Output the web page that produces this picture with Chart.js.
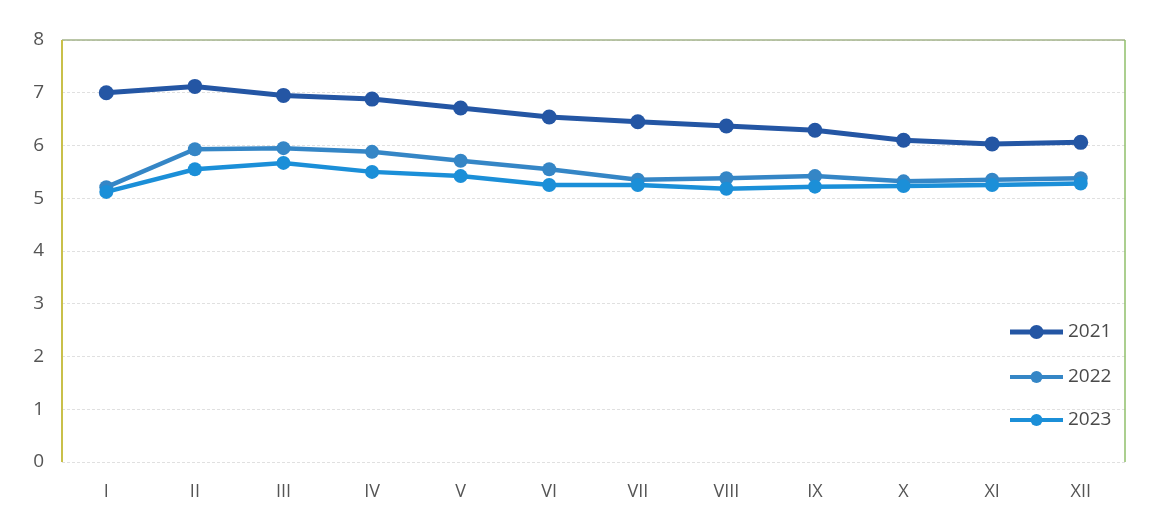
<!DOCTYPE html>
<html>
<head>
<meta charset="utf-8">
<script src="https://cdn.jsdelivr.net/npm/chart.js@4/dist/chart.umd.min.js"></script>
<style>
  html, body { margin: 0; padding: 0; background: #fff; }
  #wrap { width: 1149px; height: 508px; }
</style>
</head>
<body>
<div id="wrap"><canvas id="myChart" width="1149" height="508"></canvas></div>
<script>
const months = ['I', 'II', 'III', 'IV', 'V', 'VI', 'VII', 'VIII', 'IX', 'X', 'XI', 'XII'];
const seriesNames = ['2021', '2022', '2023'];
const seriesColors = ['#2456a4', '#3586c6', '#1b8fd8'];
const values2021 = [7.0, 7.12, 6.95, 6.88, 6.71, 6.54, 6.45, 6.37, 6.29, 6.1, 6.03, 6.06];
const values2022 = [5.21, 5.93, 5.95, 5.88, 5.71, 5.55, 5.35, 5.38, 5.42, 5.32, 5.35, 5.38];
const values2023 = [5.12, 5.55, 5.67, 5.5, 5.42, 5.25, 5.25, 5.18, 5.22, 5.23, 5.25, 5.28];
const yTicks = [0, 1, 2, 3, 4, 5, 6, 7, 8];

const allValues = [values2021, values2022, values2023];

// frame round the plot area + legend drawn inside it
const framePlugin = {
  id: 'frame',
  beforeDatasetsDraw(chart) {
    const { ctx, chartArea: a } = chart;
    ctx.save();
    ctx.lineWidth = 1.5;
    ctx.strokeStyle = '#a3b38a';
    ctx.beginPath();
    ctx.moveTo(a.left, a.top);
    ctx.lineTo(a.right, a.top);
    ctx.stroke();
    ctx.strokeStyle = '#8fbf6a';
    ctx.beginPath();
    ctx.moveTo(a.right, a.top);
    ctx.lineTo(a.right, a.bottom);
    ctx.stroke();
    ctx.strokeStyle = '#c9c04a';
    ctx.lineWidth = 2;
    ctx.beginPath();
    ctx.moveTo(a.left, a.top);
    ctx.lineTo(a.left, a.bottom);
    ctx.stroke();
    ctx.restore();
  },
  afterDraw(chart) {
    const { ctx, chartArea: a } = chart;
    const rowsY = [a.top + 292, a.top + 337, a.top + 380];
    ctx.save();
    ctx.font = '19px "Open Sans", Lato, sans-serif';
    ctx.textBaseline = 'middle';
    seriesNames.forEach((name, i) => {
      const y = rowsY[i];
      const x0 = a.right - 115;
      const x1 = a.right - 62;
      ctx.strokeStyle = seriesColors[i];
      ctx.lineWidth = i === 0 ? 5 : 4;
      ctx.beginPath();
      ctx.moveTo(x0, y);
      ctx.lineTo(x1, y);
      ctx.stroke();
      ctx.fillStyle = seriesColors[i];
      ctx.beginPath();
      ctx.arc((x0 + x1) / 2, y, i === 0 ? 7 : 6, 0, Math.PI * 2);
      ctx.fill();
      ctx.fillStyle = '#4a4a4a';
      ctx.fillText(name, x1 + 5, y);
    });
    ctx.restore();
  },
};

const ctx = document.getElementById('myChart').getContext('2d');
const myChart = new Chart(ctx, {
  type: 'line',
  data: {
    labels: months,
    datasets: seriesNames.map((name, i) => ({
      label: name,
      data: allValues[i],
      borderColor: seriesColors[i],
      backgroundColor: seriesColors[i],
      borderWidth: i === 0 ? 5 : 4.5,
      pointRadius: i === 0 ? 7.5 : 7,
      pointBorderWidth: 0,
      pointHoverRadius: 7,
      tension: 0,
      order: 3 - i,
    })),
  },
  options: {
    responsive: false,
    animation: false,
    layout: { padding: { top: 40, right: 24, left: 0, bottom: 0 } },
    plugins: {
      legend: { display: false },
      tooltip: { enabled: false },
    },
    scales: {
      x: {
        offset: true,
        grid: { display: false },
        border: { display: false },
        ticks: {
          color: '#555',
          font: { family: '"Open Sans", Lato, sans-serif', size: 18 },
          padding: 11,
          maxRotation: 0,
        },
        afterFit(scale) { scale.height = 46; },
      },
      y: {
        min: 0,
        max: 8,
        afterBuildTicks(scale) { scale.ticks = yTicks.map((v) => ({ value: v })); },
        grid: { color: '#e0e0e0', lineWidth: 1, drawTicks: false },
        border: { display: false, dash: [3, 2] },
        ticks: {
          color: '#555',
          font: { family: '"Open Sans", Lato, sans-serif', size: 19 },
          padding: 18,
        },
        afterFit(scale) { scale.width = 62; },
      },
    },
  },
  plugins: [framePlugin],
});
</script>
</body>
</html>
